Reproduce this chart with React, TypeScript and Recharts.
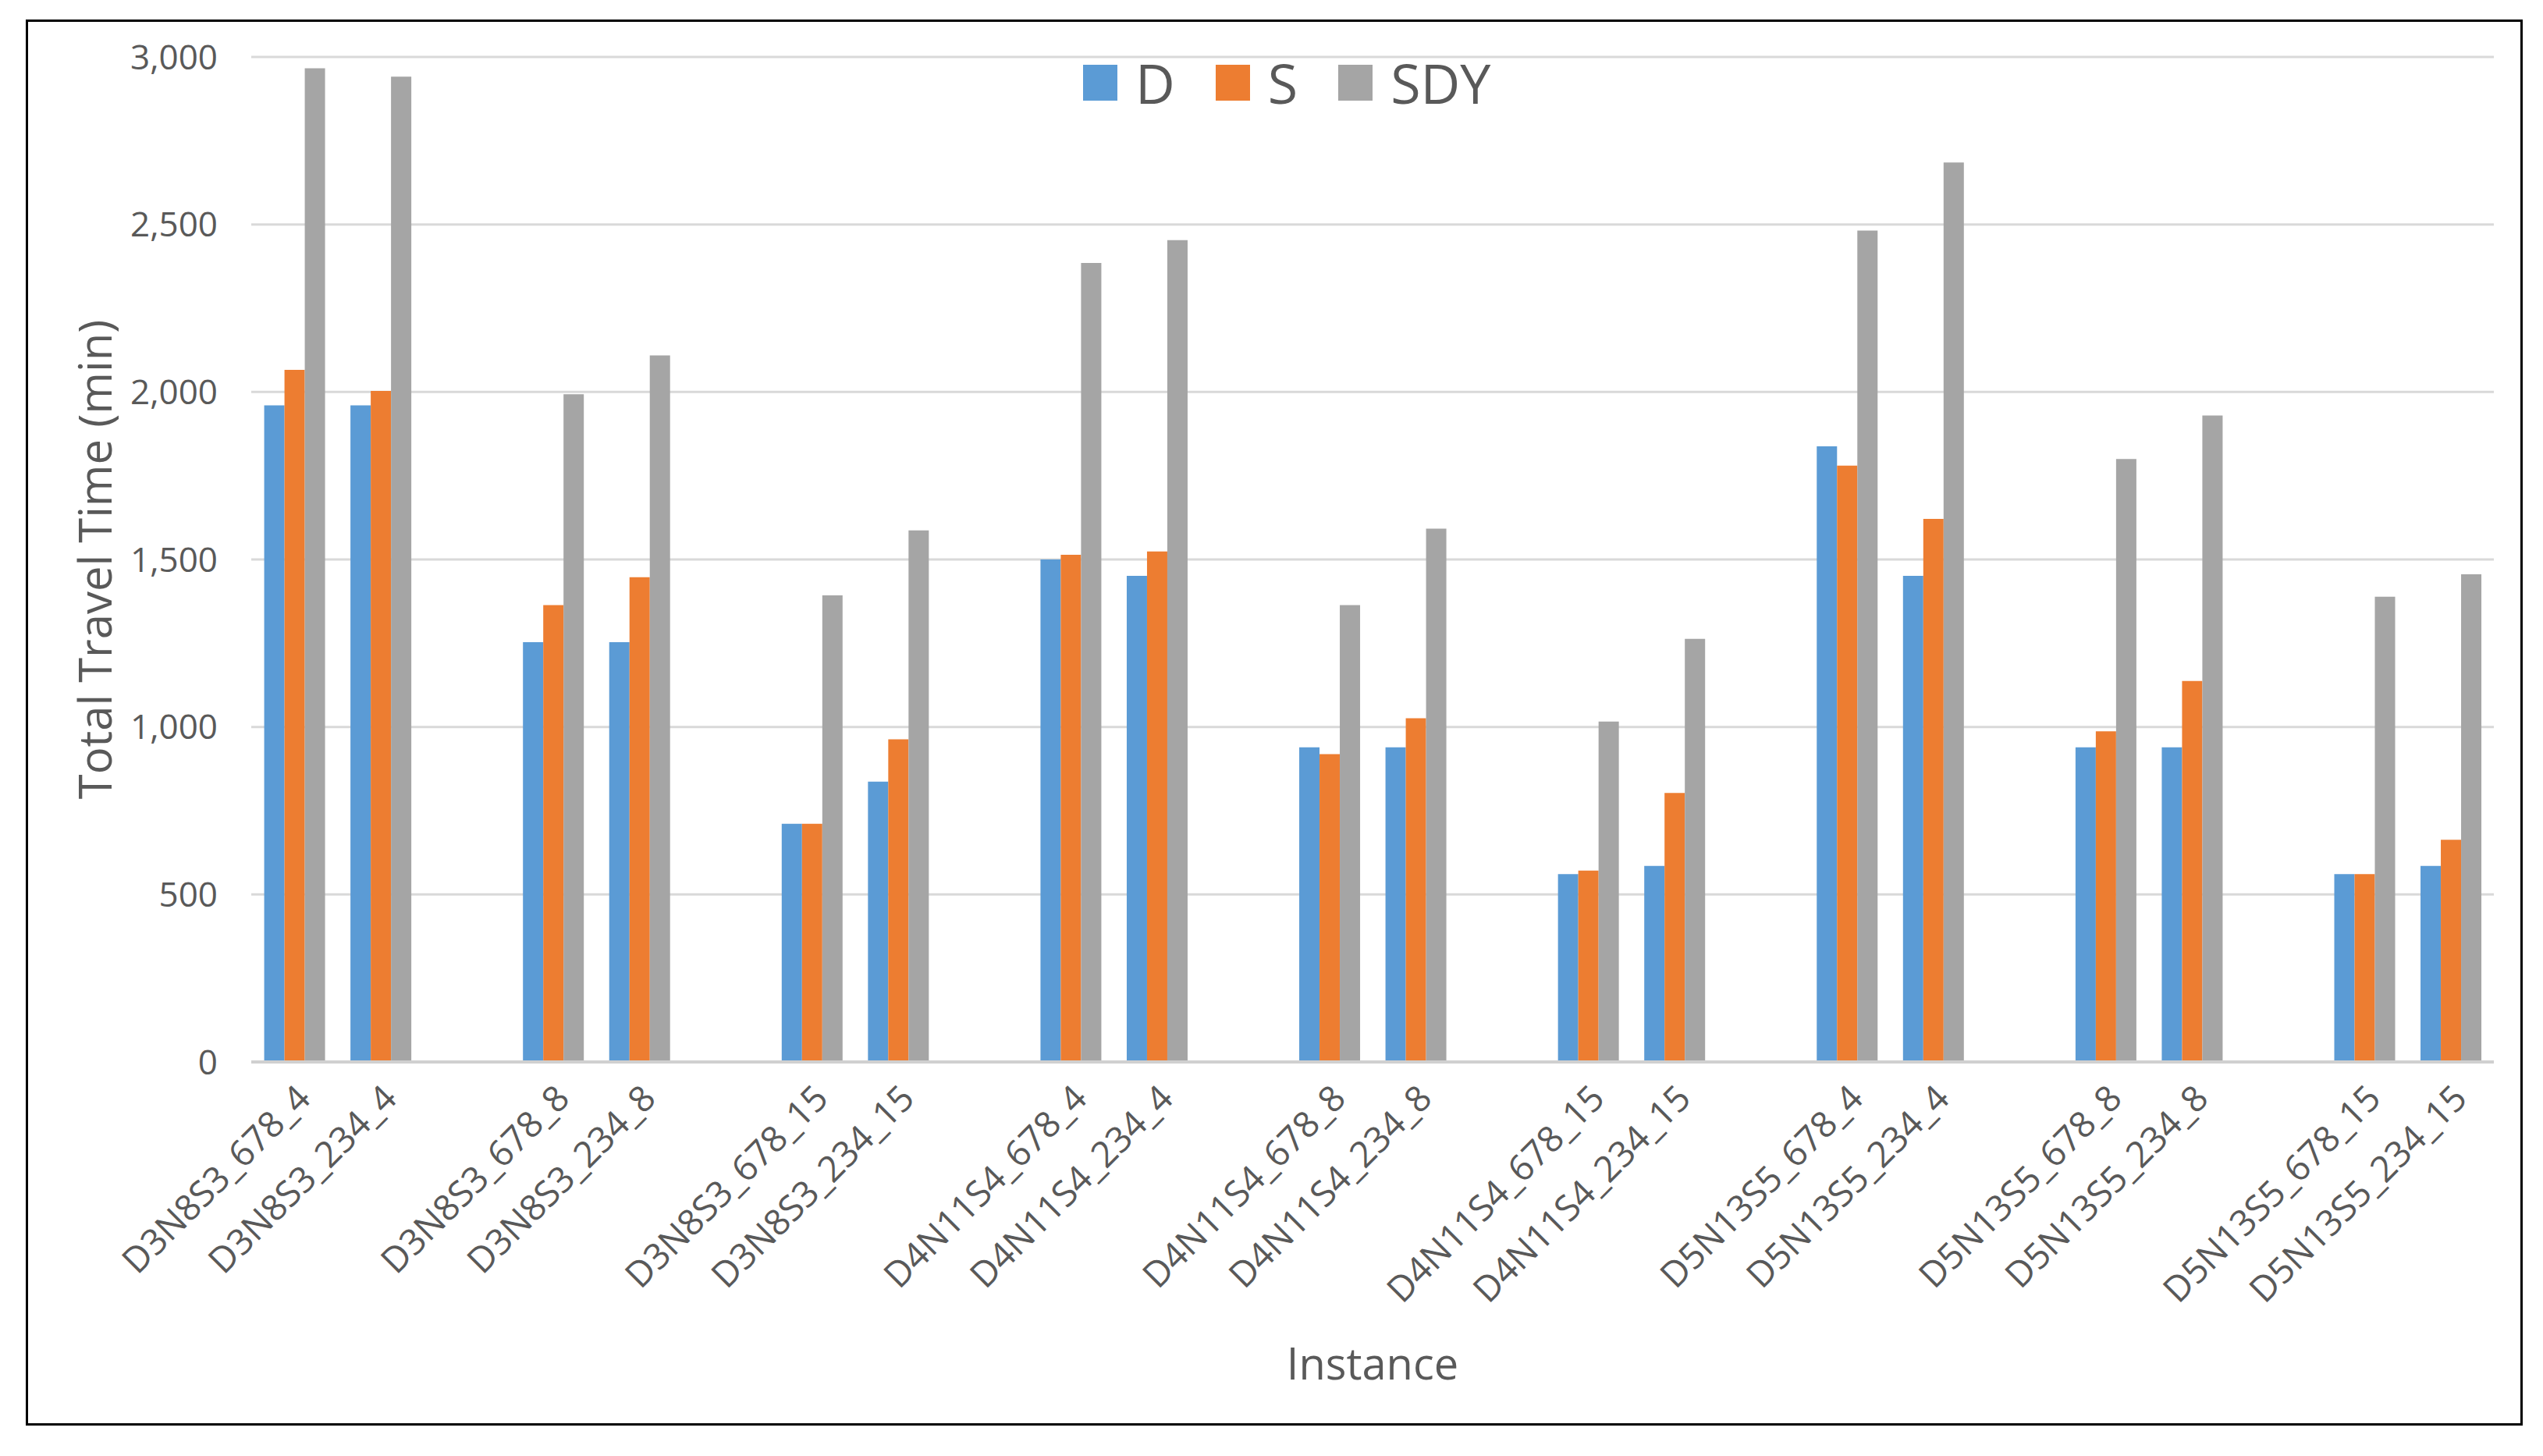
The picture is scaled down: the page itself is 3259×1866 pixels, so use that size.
import React from 'react';
import {
  Bar,
  BarChart,
  CartesianGrid,
  Legend,
  XAxis,
  YAxis,
} from 'recharts';

// empty strings are the spacer slots between instance pairs
const instances = [
  'D3N8S3_678_4', 'D3N8S3_234_4', '',
  'D3N8S3_678_8', 'D3N8S3_234_8', '',
  'D3N8S3_678_15', 'D3N8S3_234_15', '',
  'D4N11S4_678_4', 'D4N11S4_234_4', '',
  'D4N11S4_678_8', 'D4N11S4_234_8', '',
  'D4N11S4_678_15', 'D4N11S4_234_15', '',
  'D5N13S5_678_4', 'D5N13S5_234_4', '',
  'D5N13S5_678_8', 'D5N13S5_234_8', '',
  'D5N13S5_678_15', 'D5N13S5_234_15',
];

const dValues = [
  1960, 1960, null, 1253, 1253, null, 711, 837, null,
  1500, 1451, null, 939, 939, null, 561, 585, null,
  1838, 1451, null, 939, 939, null, 561, 585,
];
const sValues = [
  2066, 2003, null, 1364, 1447, null, 711, 963, null,
  1514, 1524, null, 919, 1026, null, 571, 803, null,
  1780, 1621, null, 987, 1137, null, 561, 663,
];
const sdyValues = [
  2966, 2941, null, 1993, 2109, null, 1393, 1587, null,
  2385, 2453, null, 1364, 1592, null, 1016, 1263, null,
  2482, 2685, null, 1800, 1930, null, 1389, 1456,
];

const yTicks = [0, 500, 1000, 1500, 2000, 2500, 3000];

const data = instances.map((name, i) => ({
  key: `c${i}`,
  name,
  D: dValues[i],
  S: sValues[i],
  SDY: sdyValues[i],
}));

const FONT = '"Open Sans", sans-serif';
const TEXT = '#595959';

function XTick(props: any) {
  const { x, y, payload } = props;
  const label = instances[payload.index];
  if (!label) return null;
  return (
    <g transform={`translate(${x + 12},${y + 36})`}>
      <text
        x={0}
        y={0}
        dy="0.35em"
        textAnchor="end"
        transform="rotate(-45)"
        fontSize={46}
        fill={TEXT}
        fontFamily={FONT}
      >
        {label}
      </text>
    </g>
  );
}

function LegendContent(props: any) {
  const items = props.payload || [];
  return (
    <div style={{ height: 0, overflow: 'visible' }}>
      <div style={{ display: 'flex', alignItems: 'center', whiteSpace: 'nowrap' }}>
        {items.map((entry: any) => (
          <div
            key={entry.value}
            style={{ display: 'flex', alignItems: 'center', marginRight: 52 }}
          >
            <span
              style={{
                display: 'inline-block',
                width: 44,
                height: 46,
                background: entry.color,
                marginRight: 23,
              }}
            />
            <span
              style={{
                fontSize: 70,
                lineHeight: '72px',
                color: TEXT,
                fontFamily: FONT,
              }}
            >
              {entry.value}
            </span>
          </div>
        ))}
      </div>
    </div>
  );
}

function YTitle(props: any) {
  const vb = props.viewBox;
  const cy = vb.y + vb.height / 2;
  return (
    <text
      x={120}
      y={cy}
      transform={`rotate(-90,120,${cy})`}
      textAnchor="middle"
      dominantBaseline="central"
      fontSize={58}
      fill={TEXT}
      fontFamily={FONT}
    >
      Total Travel Time (min)
    </text>
  );
}

function XTitle(props: any) {
  const vb = props.viewBox;
  return (
    <text
      x={vb.x + vb.width / 2}
      y={1746}
      textAnchor="middle"
      dominantBaseline="central"
      fontSize={56}
      fill={TEXT}
      fontFamily={FONT}
    >
      Instance
    </text>
  );
}

export default function App() {
  return (
    <div
      style={{
        position: 'absolute',
        left: 0,
        top: 0,
        width: 3259,
        height: 1866,
        background: '#fff',
      }}
    >
      <div
        style={{
          position: 'absolute',
          left: 33,
          top: 25,
          width: 3200,
          height: 1802,
          border: '3px solid #000',
          boxSizing: 'border-box',
        }}
      />
      <BarChart
        width={3259}
        height={1866}
        data={data}
        margin={{ top: 73, right: 63, bottom: 105, left: 100 }}
        barCategoryGap="15%"
        barGap={0}
      >
        <CartesianGrid vertical={false} stroke="#d9d9d9" strokeWidth={3} />
        <XAxis
          dataKey="key"
          height={400}
          tickLine={false}
          tickSize={0}
          axisLine={{ stroke: '#d0d0d0', strokeWidth: 4 }}
          interval={0}
          tick={<XTick />}
          label={<XTitle />}
        />
        <YAxis
          width={222}
          domain={[0, 3000]}
          ticks={yTicks}
          tickLine={false}
          axisLine={false}
          tickSize={0}
          tickMargin={43}
          tick={{ fontSize: 44, fill: TEXT, fontFamily: FONT }}
          tickFormatter={(v: number) => v.toLocaleString('en-US')}
          label={<YTitle />}
        />
        <Legend
          verticalAlign="top"
          content={<LegendContent />}
          wrapperStyle={{ top: 70, left: 1388, width: 'auto' }}
        />
        <Bar dataKey="D" fill="#5B9BD5" isAnimationActive={false} />
        <Bar dataKey="S" fill="#ED7D31" isAnimationActive={false} />
        <Bar dataKey="SDY" fill="#A5A5A5" isAnimationActive={false} />
      </BarChart>
    </div>
  );
}
